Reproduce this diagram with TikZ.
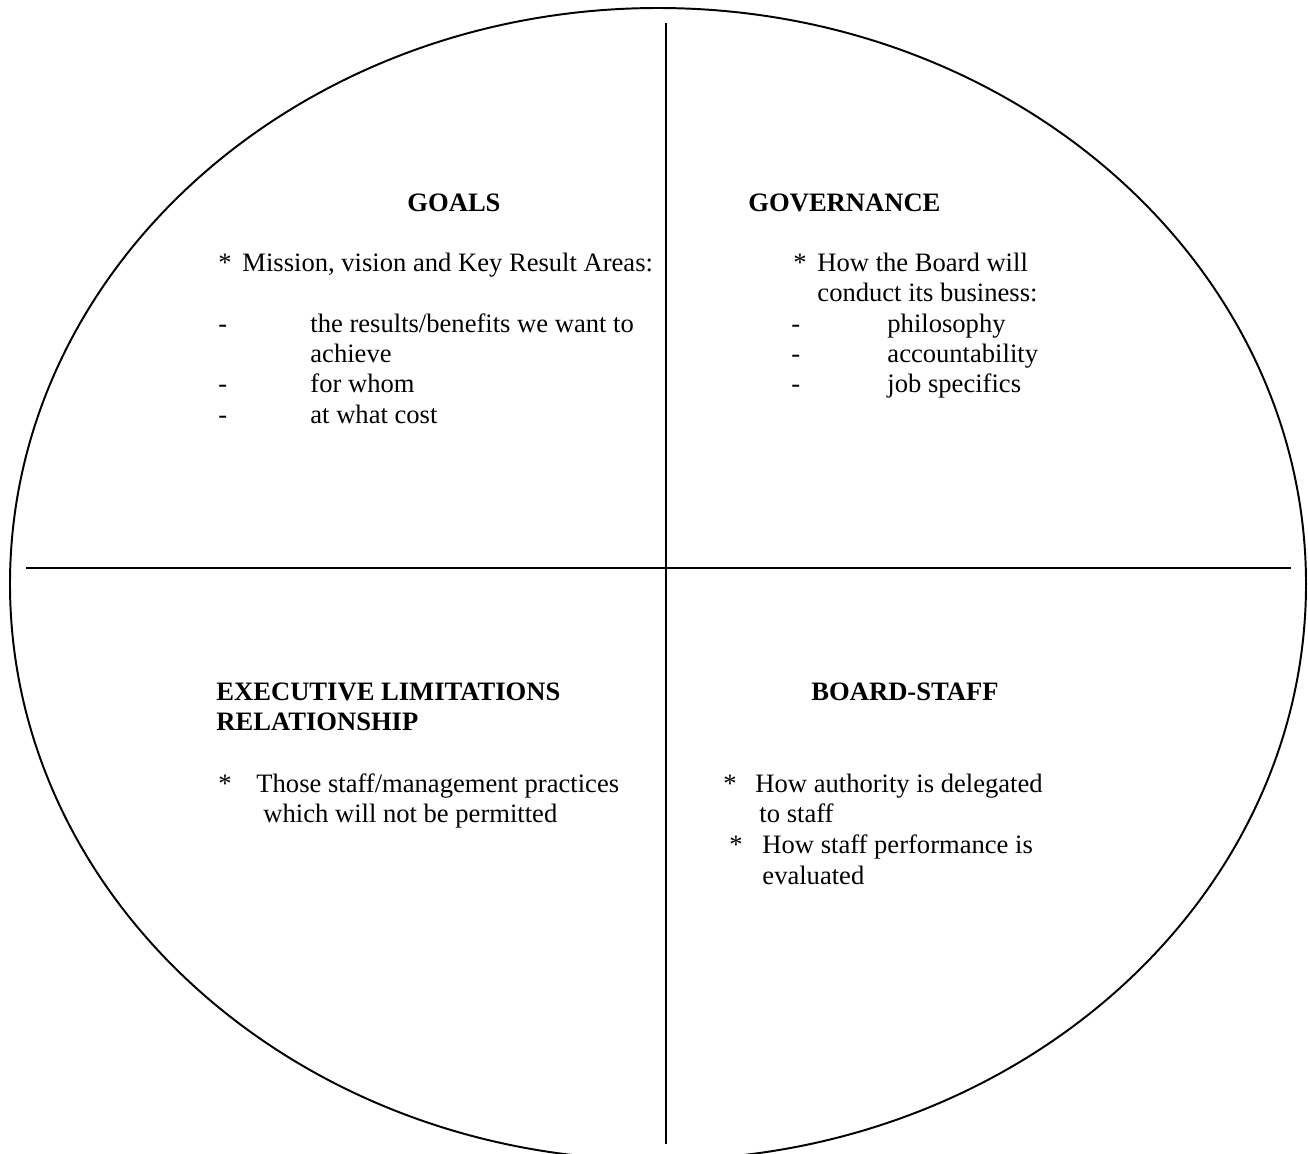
\documentclass[tikz,border=0pt]{standalone}
\usepackage{fontspec}
\setmainfont{Liberation Serif}

\tikzset{
    divider/.style={draw=black, line width=0.9pt},
    head/.style={anchor=base west, inner sep=0pt, font=\fontsize{12.25}{14}\selectfont\bfseries},
    txt/.style={anchor=base west, inner sep=0pt, font=\fontsize{12.25}{14}\selectfont}
}

\begin{document}
\begin{tikzpicture}[x=0.4608pt, y=-0.4608pt]
    \useasboundingbox (0,0) rectangle (1308,1153);
    \clip (0,0) rectangle (1308,1153);

    % the big oval, cut at top and bottom
    \draw [divider] (658,584) ellipse [x radius=648, y radius=576];

    % quadrant dividers
    \coordinate (vtop) at (666,23);
    \coordinate (vbot) at (666,1144);
    \coordinate (hleft) at (26,568);
    \coordinate (hright) at (1291,568);
    \draw [divider] (vtop) -- (vbot);
    \draw [divider] (hleft) -- (hright);

    % top left: goals
    \node [head] (goals) at (407,211) {GOALS};
    \node [txt] (g-star) at (218,271) {*};
    \node [txt] (g-mission) at (242,271) {Mission, vision and Key Result Areas:};
    \node [txt] (g-d1) at (218,332) {-};
    \node [txt] (g-results) at (310,332) {the results/benefits we want to};
    \node [txt] (g-achieve) at (310,362) {achieve};
    \node [txt] (g-d2) at (218,392) {-};
    \node [txt] (g-whom) at (310,392) {for whom};
    \node [txt] (g-d3) at (218,423) {-};
    \node [txt] (g-cost) at (310,423) {at what cost};

    % top right: governance
    \node [head] (gov) at (748,211) {GOVERNANCE};
    \node [txt] (gov-star) at (793,271) {*};
    \node [txt] (gov-how) at (817,271) {How the Board will};
    \node [txt] (gov-conduct) at (817,301) {conduct its business:};
    \foreach \y/\t in {332/philosophy, 362/accountability, 392/job specifics} {
        \node [txt] (gov-d\y) at (791,\y) {-};
        \node [txt] (gov-t\y) at (887,\y) {\t};
    }

    % bottom left: executive limitations
    \node [head] (exec) at (216,700) {EXECUTIVE LIMITATIONS};
    \node [head] (rel) at (216,730) {RELATIONSHIP};
    \node [txt] (e-star) at (218,792) {*};
    \node [txt] (e-those) at (256,792) {Those staff/management practices};
    \node [txt] (e-which) at (263,822) {which will not be permitted};

    % bottom right: board-staff
    \node [head] (bs) at (811,700) {BOARD-STAFF};
    \node [txt] (bs-star1) at (723,792) {*};
    \node [txt] (bs-auth) at (755,792) {How authority is delegated};
    \node [txt] (bs-to) at (759,822) {to staff};
    \node [txt] (bs-star2) at (729,853) {*};
    \node [txt] (bs-perf) at (762,853) {How staff performance is};
    \node [txt] (bs-eval) at (762,884) {evaluated};
\end{tikzpicture}
\end{document}
